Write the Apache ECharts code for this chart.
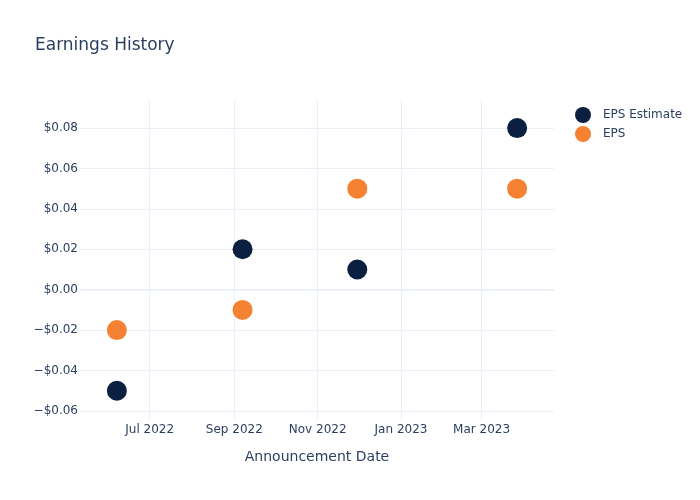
<!DOCTYPE html>
<html>
<head>
<meta charset="utf-8">
<script src="https://cdn.jsdelivr.net/npm/echarts@6/dist/echarts.min.js"></script>
<style>html,body{margin:0;padding:0;background:#fff}#c{width:700px;height:500px}</style>
</head>
<body>
<div id="c"></div>
<script>
const dates = ['2022-06-07', '2022-09-07', '2022-11-30', '2023-03-27'];
const epsEstimate = [-0.05, 0.02, 0.01, 0.08];
const eps = [-0.02, -0.01, 0.05, 0.05];
const xTickDates = ['2022-07-01', '2022-09-01', '2022-11-01', '2023-01-01', '2023-03-01'];
const xTickLabels = ['Jul 2022', 'Sep 2022', 'Nov 2022', 'Jan 2023', 'Mar 2023'];
const yTicks = [-0.06, -0.04, -0.02, 0, 0.02, 0.04, 0.06, 0.08];
const xRange = ['2022-05-11', '2023-04-23'];
const yRange = [-0.0645, 0.0939];

function ts(s){ const p = s.split('-').map(Number); return Date.UTC(p[0], p[1]-1, p[2]); }
const xTickTs = xTickDates.map(ts);
function fmtY(v){
  const a = Math.abs(v).toFixed(2);
  return (v < -1e-9 ? '\u2212$' : '$') + a;
}
const FONT = 'DejaVu Sans';
const TXT = '#2a3f5f';
const GRID = '#ebf0f8';

const chart = echarts.init(document.getElementById('c'), null, {renderer: 'canvas'});
chart.setOption({
  animation: false,
  backgroundColor: '#fff',
  title: {
    text: 'Earnings History', left: 35, top: 37, padding: 0,
    textStyle: {fontFamily: FONT, fontSize: 17, fontWeight: 'normal', color: TXT}
  },
  legend: {
    orient: 'vertical', left: 575, top: 107, itemWidth: 16, itemHeight: 16, itemGap: 3,
    icon: 'circle', padding: 0,
    textStyle: {fontFamily: FONT, fontSize: 12, color: TXT, padding: [0,0,0,7]},
    data: ['EPS Estimate', 'EPS']
  },
  grid: {left: 80, right: 146, top: 100, bottom: 80, containLabel: false},
  xAxis: {
    type: 'value', min: ts(xRange[0]), max: ts(xRange[1]),
    name: 'Announcement Date', nameLocation: 'middle', nameGap: 30,
    nameTextStyle: {fontFamily: FONT, fontSize: 14, color: TXT},
    axisLine: {show: false},
    axisTick: {show: false, customValues: xTickTs},
    axisLabel: {
      customValues: xTickTs, fontFamily: FONT, fontSize: 12, color: TXT, margin: 4,
      formatter: function(v){ const i = xTickTs.indexOf(v); return i >= 0 ? xTickLabels[i] : ''; }
    },
    splitLine: {show: true, lineStyle: {color: GRID, width: 1}}
  },
  yAxis: {
    type: 'value', min: yRange[0], max: yRange[1],
    axisLine: {show: false},
    axisTick: {show: false, customValues: yTicks},
    axisLabel: {customValues: yTicks, fontFamily: FONT, fontSize: 12, color: TXT, margin: 2, formatter: fmtY},
    splitLine: {show: true, lineStyle: {color: GRID, width: 1}}
  },
  series: [
    {
      name: 'EPS Estimate', type: 'scatter', symbolSize: 20,
      itemStyle: {color: '#0b1f41', opacity: 1},
      data: dates.map((d, i) => [ts(d), epsEstimate[i]]),
      markLine: {
        silent: true, symbol: 'none', label: {show: false},
        lineStyle: {color: GRID, width: 2, type: 'solid'},
        data: [{yAxis: 0}], z: 0
      },
      z: 3
    },
    {
      name: 'EPS', type: 'scatter', symbolSize: 20,
      itemStyle: {color: '#f58233', opacity: 1},
      data: dates.map((d, i) => [ts(d), eps[i]]),
      z: 3
    }
  ]
});
</script>
</body>
</html>
